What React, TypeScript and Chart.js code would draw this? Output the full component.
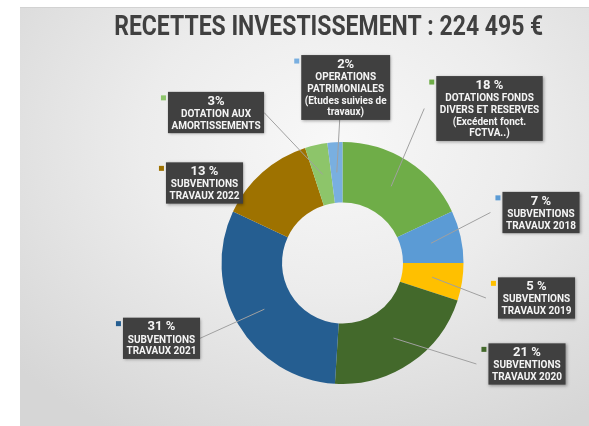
import { useEffect, useRef } from "react";
import { Chart, registerables } from "chart.js";

Chart.register(...registerables);

const TITLE = "RECETTES INVESTISSEMENT : 224 495 €";

const categories = [
  "DOTATIONS FONDS DIVERS ET RESERVES (Excédent fonct. FCTVA..)",
  "SUBVENTIONS TRAVAUX 2018",
  "SUBVENTIONS TRAVAUX 2019",
  "SUBVENTIONS TRAVAUX 2020",
  "SUBVENTIONS TRAVAUX 2021",
  "SUBVENTIONS TRAVAUX 2022",
  "DOTATION AUX AMORTISSEMENTS",
  "OPERATIONS PATRIMONIALES (Etudes suivies de travaux)",
];

const shares = [18, 7, 5, 21, 31, 13, 3, 2];

const shareLabels = ["18 %", "7 %", "5 %", "21 %", "31 %", "13 %", "3%", "2%"];

const labelLines = [
  ["DOTATIONS FONDS", "DIVERS ET RESERVES", "(Excédent fonct.", "FCTVA..)"],
  ["SUBVENTIONS", "TRAVAUX 2018"],
  ["SUBVENTIONS", "TRAVAUX 2019"],
  ["SUBVENTIONS", "TRAVAUX 2020"],
  ["SUBVENTIONS", "TRAVAUX 2021"],
  ["SUBVENTIONS", "TRAVAUX 2022"],
  ["DOTATION AUX", "AMORTISSEMENTS"],
  ["OPERATIONS", "PATRIMONIALES", "(Etudes suivies de", "travaux)"],
];

const sliceColors = [
  "#6FAD48",
  "#5B9BD5",
  "#FFC000",
  "#43692B",
  "#255E91",
  "#9E7200",
  "#8DC56A",
  "#79AFE0",
];

// callout box centres, relative to the doughnut centre (layout only)
const calloutOffsets: [number, number][] = [
  [147, -154.5],
  [198.5, -50.5],
  [194, 35],
  [184.5, 101],
  [-181, 75.3],
  [-138, -80],
  [-126.5, -150.5],
  [3.2, -175.5],
];

const leaderSides = ["left", "left", "left", "left", "right", "none", "right", "bottom"];

const calloutPlugin = {
  id: "callouts",
  afterDatasetsDraw(chart: any) {
    const ctx: CanvasRenderingContext2D = chart.ctx;
    const meta = chart.getDatasetMeta(0);
    const arcs = meta.data as any[];
    if (!arcs.length) return;
    const cx = arcs[0].x;
    const cy = arcs[0].y;
    const pctFont = "bold 13px Roboto";
    const subFont = "bold 10px Roboto";

    const boxes = arcs.map((arc, i) => {
      ctx.font = pctFont;
      let w = ctx.measureText(shareLabels[i]).width;
      ctx.font = subFont;
      labelLines[i].forEach((t) => {
        w = Math.max(w, ctx.measureText(t).width);
      });
      const bw = w + 7;
      const n = labelLines[i].length;
      const bh = 9.5 + 13 + (n - 1) * 11.8 + 7;
      const bx = cx + calloutOffsets[i][0];
      const by = cy + calloutOffsets[i][1];
      return { left: bx - bw / 2, top: by - bh / 2, w: bw, h: bh, cx: bx, cy: by };
    });

    // leader lines
    ctx.save();
    ctx.strokeStyle = "#a0a0a0";
    ctx.lineWidth = 1;
    arcs.forEach((arc, i) => {
      const side = leaderSides[i];
      if (side === "none") return;
      const b = boxes[i];
      const p = arc.getCenterPoint();
      let sx = b.left - 12;
      let sy = b.cy;
      if (side === "right") sx = b.left + b.w;
      if (side === "bottom") {
        sx = b.cx - 6;
        sy = b.top + b.h;
      }
      ctx.beginPath();
      ctx.moveTo(sx, sy);
      ctx.lineTo(p.x, p.y);
      ctx.stroke();
    });
    ctx.restore();

    // boxes
    boxes.forEach((b, i) => {
      ctx.save();
      ctx.shadowColor = "rgba(0,0,0,0.35)";
      ctx.shadowBlur = 3;
      ctx.shadowOffsetX = 1;
      ctx.shadowOffsetY = 1;
      ctx.fillStyle = "#404040";
      ctx.fillRect(b.left, b.top, b.w, b.h);
      ctx.restore();

      ctx.fillStyle = sliceColors[i];
      ctx.fillRect(b.left - 7, b.top + 3.5, 5, 5);

      ctx.save();
      ctx.fillStyle = "#f4f4f4";
      ctx.textAlign = "center";
      ctx.textBaseline = "middle";
      ctx.font = pctFont;
      ctx.fillText(shareLabels[i], b.cx, b.top + 9.5);
      ctx.font = subFont;
      labelLines[i].forEach((t, k) => {
        ctx.fillText(t, b.cx, b.top + 9.5 + 13 + k * 11.8);
      });
      ctx.restore();
    });
  },
  afterDraw(chart: any) {
    const ctx: CanvasRenderingContext2D = chart.ctx;
    ctx.save();
    ctx.font = "bold 27px Roboto";
    const w = ctx.measureText(TITLE).width;
    const s = Math.min(1, 429 / w);
    ctx.translate(328.7, 35);
    ctx.scale(s, 1);
    ctx.fillStyle = "#404040";
    ctx.textAlign = "center";
    ctx.textBaseline = "alphabetic";
    ctx.fillText(TITLE, 0, 0);
    ctx.restore();
  },
};

export default function App() {
  const ref = useRef<HTMLCanvasElement | null>(null);

  useEffect(() => {
    if (!ref.current) return;
    const chart = new Chart(ref.current, {
      type: "doughnut",
      data: {
        labels: categories,
        datasets: [
          {
            data: shares,
            backgroundColor: sliceColors,
            borderWidth: 0,
          },
        ],
      },
      options: {
        responsive: false,
        animation: false,
        devicePixelRatio: 1,
        cutout: "50%",
        rotation: 0,
        layout: { padding: { left: 221.5, right: 125.5, top: 142, bottom: 42 } },
        plugins: {
          legend: { display: false },
          tooltip: { enabled: false },
          title: { display: false },
        },
      },
      plugins: [calloutPlugin],
    });
    return () => chart.destroy();
  }, []);

  return (
    <div style={{ position: "fixed", left: 0, top: 0, width: 589, height: 426, background: "#ffffff", overflow: "hidden" }}>
      <div
        style={{
          position: "absolute",
          left: 20,
          top: 7,
          width: 569,
          height: 419,
          borderTop: "1px solid #d2d2d2",
          background:
            "radial-gradient(ellipse 75% 80% at 55% 32%, #f8f8f8 0%, #ececec 45%, #d6d6d6 100%)",
        }}
      />
      <canvas ref={ref} width={589} height={426} style={{ position: "absolute", left: 0, top: 0, width: 589, height: 426 }} />
    </div>
  );
}
